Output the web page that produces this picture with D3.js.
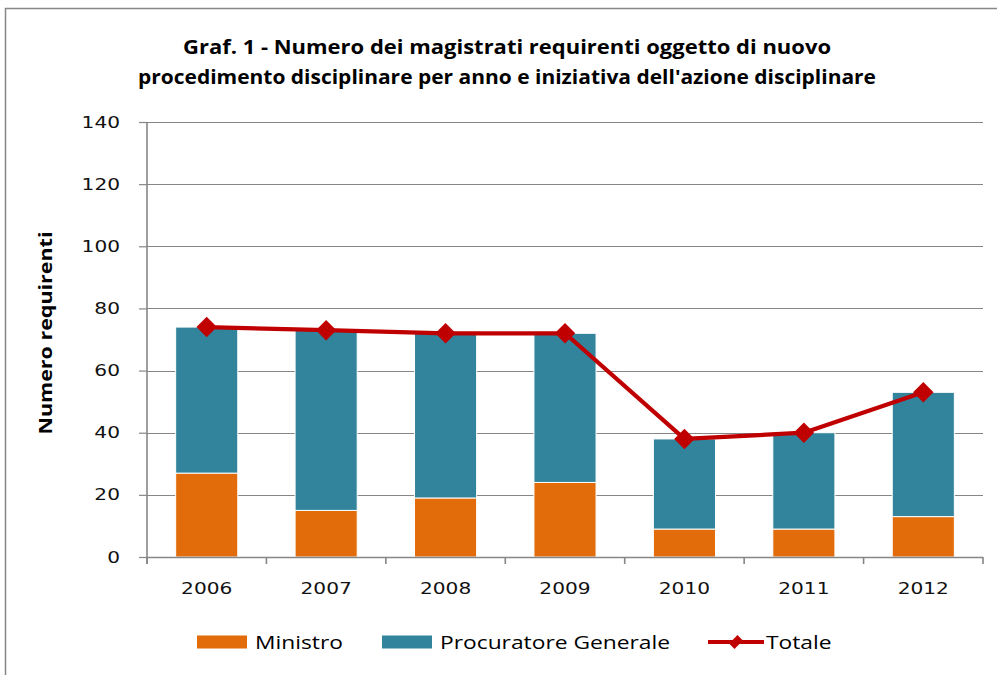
<!DOCTYPE html>
<html>
<head>
<meta charset="utf-8">
<script src="https://cdn.jsdelivr.net/npm/d3@7"></script>
<style>
  body { margin: 0; background: #fff; }
  svg { display: block; }
</style>
</head>
<body>
<div id="my_dataviz"></div>
<script>
// data
var years = ["2006", "2007", "2008", "2009", "2010", "2011", "2012"];
var ministro = [27, 15, 19, 24, 9, 9, 13];
var procuratore = [47, 58, 53, 48, 29, 31, 40];
var totale = [74, 73, 72, 72, 38, 40, 53];
var yTicks = [0, 20, 40, 60, 80, 100, 120, 140];
var seriesNames = ["Ministro", "Procuratore Generale", "Totale"];
var titleLines = ["Graf. 1 - Numero dei magistrati  requirenti oggetto di nuovo",
                  "procedimento disciplinare per anno e iniziativa dell'azione disciplinare"];
var yTitle = "Numero requirenti";

var colors = {Ministro: "#E36C0A", "Procuratore Generale": "#31849B", Totale: "#C00000"};
var gridColor = "#868686";
var stretch = "scale(1.2,1)";
var tickStretch = 1.26;

// plot area
var width = 997, height = 675;
var plot = {left: 147, right: 983, top: 122, bottom: 557};

var svg = d3.select("#my_dataviz")
      .append("svg")
      .attr("width", width)
      .attr("height", height);

// outer frame (only left and top edges are in view)
svg.append("rect")
      .attr("x", 5.5).attr("y", 8.5)
      .attr("width", 1020).attr("height", 700)
      .attr("fill", "none")
      .attr("stroke", gridColor)
      .attr("stroke-width", 1.5);

// title
svg.append("g").selectAll("text")
      .data(titleLines)
      .enter()
      .append("text")
      .attr("x", 507)
      .attr("y", function (d, i) { return 54 + i * 30; })
      .attr("text-anchor", "middle")
      .attr("textLength", function (d, i) { return i === 0 ? 648 : 738; })
      .attr("lengthAdjust", "spacingAndGlyphs")
      .style("font-family", "'Open Sans', sans-serif")
      .style("font-weight", "bold")
      .style("font-size", "19px")
      .style("fill", "#000")
      .text(function (d) { return d; });

// scales
var x = d3.scaleBand()
      .domain(years)
      .range([plot.left, plot.right])
      .paddingInner(0.48)
      .paddingOuter(0.24);

var y = d3.scaleLinear()
      .domain([0, 140])
      .range([plot.bottom, plot.top]);

// gridlines
svg.append("g")
      .selectAll("line")
      .data(yTicks.filter(function (d) { return d > 0; }))
      .enter()
      .append("line")
      .attr("x1", plot.left).attr("x2", plot.right)
      .attr("y1", function (d) { return Math.round(y(d)) + 0.5; })
      .attr("y2", function (d) { return Math.round(y(d)) + 0.5; })
      .attr("stroke", gridColor)
      .attr("stroke-width", 1.2);

// Y axis
var yAxis = svg.append("g")
      .attr("transform", "translate(" + plot.left + ",0)")
      .call(d3.axisLeft(y).tickValues(yTicks).tickSize(8).tickSizeOuter(0));
yAxis.select(".domain").remove();
yAxis.selectAll(".tick line").attr("stroke", gridColor).attr("stroke-width", 1.2);
yAxis.selectAll("text")
      .attr("x", -27 / tickStretch)
      .attr("transform", "scale(" + tickStretch + ",1)")
      .style("font-family", "'DejaVu Sans', sans-serif")
      .style("font-size", "16px")
      .style("fill", "#111");
yAxis.append("line")
      .attr("x1", 0).attr("x2", 0)
      .attr("y1", plot.top).attr("y2", plot.bottom + 7)
      .attr("stroke", gridColor)
      .attr("stroke-width", 1.6);

// Y title
svg.append("text")
      .attr("transform", "translate(52,333) rotate(-90)")
      .attr("text-anchor", "middle")
      .attr("textLength", 203)
      .attr("lengthAdjust", "spacingAndGlyphs")
      .style("font-family", "'Open Sans', sans-serif")
      .style("font-weight", "bold")
      .style("font-size", "18px")
      .style("fill", "#000")
      .text(yTitle);

// stacked bars
var stackData = years.map(function (d, i) {
      return {year: d, Ministro: ministro[i], "Procuratore Generale": procuratore[i]};
});
var stacked = d3.stack().keys(["Ministro", "Procuratore Generale"])(stackData);

svg.append("g")
      .selectAll("g")
      .data(stacked)
      .enter()
      .append("g")
      .attr("fill", function (d) { return colors[d.key]; })
      .selectAll("rect")
      .data(function (d) { return d; })
      .enter()
      .append("rect")
      .attr("x", function (d) { return x(d.data.year); })
      .attr("y", function (d) { return y(d[1]); })
      .attr("width", x.bandwidth())
      .attr("height", function (d) { return y(d[0]) - y(d[1]); })
      .attr("stroke", "#fff")
      .attr("stroke-width", 1);

// X axis
var xAxis = svg.append("g")
      .attr("transform", "translate(0," + plot.bottom + ")")
      .call(d3.axisBottom(x).tickSize(0).tickSizeOuter(0));
xAxis.select(".domain").remove();
xAxis.selectAll("text")
      .attr("y", 37)
      .attr("dy", 0)
      .attr("transform", "scale(" + tickStretch + ",1)")
      .style("font-family", "'DejaVu Sans', sans-serif")
      .style("font-size", "16px")
      .style("fill", "#111");
xAxis.append("line")
      .attr("x1", plot.left).attr("x2", plot.right)
      .attr("y1", 0.5).attr("y2", 0.5)
      .attr("stroke", gridColor)
      .attr("stroke-width", 1.4);
// ticks between categories
xAxis.selectAll(".sep")
      .data(d3.range(years.length + 1))
      .enter()
      .append("line")
      .attr("class", "sep")
      .attr("x1", function (i) { return plot.left + i * x.step(); })
      .attr("x2", function (i) { return plot.left + i * x.step(); })
      .attr("y1", 0).attr("y2", 7)
      .attr("stroke", gridColor)
      .attr("stroke-width", 1.6);

// Totale line with diamond markers
var diamond = d3.symbol().type(d3.symbolSquare).size(210);
var center = function (i) { return x(years[i]) + x.bandwidth() / 2; };

svg.append("path")
      .datum(totale)
      .attr("d", d3.line()
            .x(function (d, i) { return center(i); })
            .y(function (d) { return y(d); }))
      .attr("fill", "none")
      .attr("stroke", colors.Totale)
      .attr("stroke-width", 4.2)
      .attr("stroke-linejoin", "round");

svg.append("g")
      .selectAll("path")
      .data(totale)
      .enter()
      .append("path")
      .attr("d", diamond)
      .attr("transform", function (d, i) {
            return "translate(" + center(i) + "," + y(d) + ") rotate(45)";
      })
      .attr("fill", colors.Totale);

// legend
var legendX = [197, 382, 708];
var legendY = 642;
var legend = svg.append("g")
      .selectAll("g")
      .data(seriesNames)
      .enter()
      .append("g")
      .attr("transform", function (d, i) { return "translate(" + legendX[i] + "," + legendY + ")"; });

legend.filter(function (d) { return d !== "Totale"; })
      .append("rect")
      .attr("x", 0).attr("y", -6.5)
      .attr("width", 50).attr("height", 13)
      .attr("fill", function (d) { return colors[d]; });

var lineItem = legend.filter(function (d) { return d === "Totale"; });
lineItem.append("line")
      .attr("x1", 0).attr("x2", 56)
      .attr("y1", 0).attr("y2", 0)
      .attr("stroke", colors.Totale)
      .attr("stroke-width", 4.2);
lineItem.append("path")
      .attr("d", d3.symbol().type(d3.symbolSquare).size(90))
      .attr("transform", "translate(28,0) rotate(45) scale(0.8,1.25)")
      .attr("fill", colors.Totale);

legend.append("text")
      .attr("transform", "translate(58,7) " + stretch)
      .style("font-family", "'Open Sans', sans-serif")
      .style("font-size", "19px")
      .style("fill", "#000")
      .text(function (d) { return d; });
</script>
</body>
</html>
